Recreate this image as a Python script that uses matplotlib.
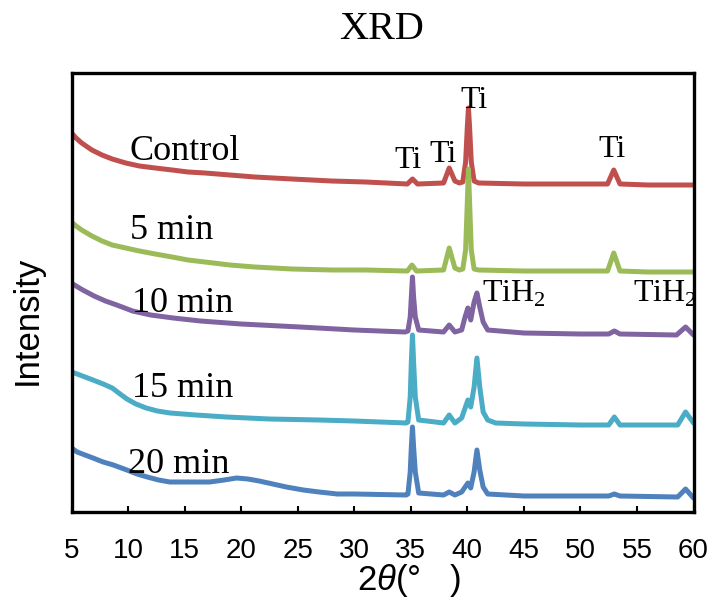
import matplotlib
matplotlib.use("Agg")
import matplotlib.pyplot as plt

plt.rcParams['mathtext.fontset'] = 'custom'
plt.rcParams['mathtext.rm'] = 'Liberation Serif'
plt.rcParams['mathtext.it'] = 'Liberation Sans:italic'

# ---- data (2theta in degrees, intensity in arbitrary offset units) ----
control_x = [5.0, 5.4, 5.9, 6.8, 7.7, 8.6, 9.8, 11.0, 12.4, 13.9, 15.3, 16.8, 19.0, 21.2, 24.5, 28.0,
             31.0, 34.7, 35.15, 35.6, 37.9, 38.4, 38.9, 39.3,
             39.6, 39.85, 40.0, 40.1, 40.2, 40.35, 40.6, 41, 45, 50, 52.4, 52.95, 53.5, 56, 60]
control_y = [379, 374, 369, 362, 357, 353, 349, 346, 344, 342, 340, 339, 337, 335, 333, 331,
             330, 328, 333, 328, 329, 344, 331, 329,
             330, 350, 385, 404, 385, 350, 331, 329, 328, 328, 328, 342, 328, 327, 327]

min5_x = [5.0, 5.4, 5.9, 6.8, 7.7, 8.6, 9.8, 11.0, 12.4, 13.9, 15.3, 16.8, 19.0, 21.2, 24.5, 28.0,
          31.0, 34.7, 35.1, 35.5, 37.9, 38.4, 38.9, 39.3,
          39.6, 39.85, 40.0, 40.1, 40.2, 40.35, 40.6, 41, 45, 50, 52.4, 52.95, 53.5, 56, 60]
min5_y = [290, 286, 282, 276, 271, 267, 264, 261, 258, 255, 252, 250, 247, 245, 243, 242,
          242, 241, 247, 241, 242, 264, 244, 242,
          243, 262, 310, 343, 310, 262, 243, 242, 241, 241, 241, 259, 241, 240, 240]

min10_x = [5.0, 5.4, 6.0, 7.0, 8.0, 9.0, 10.4, 12.0, 14.0, 16.4, 20.0, 25.2, 30, 34.5, 34.75, 34.95,
           35.05, 35.15, 35.25, 35.4, 35.7, 37.9, 38.4, 38.9, 39.5, 39.8, 40.05, 40.3, 40.6, 40.85,
           41.1, 41.4, 41.8, 45, 50, 52.5, 53.0, 53.5, 58.5, 59.3, 60]
min10_y = [229, 226, 222, 216, 211, 207, 201, 197, 194, 191, 188, 185, 182, 180, 181, 195,
           215, 235, 215, 195, 182, 180, 187, 180, 182, 195, 204, 192, 210, 219,
           205, 190, 182, 179, 178, 178, 181, 178, 177, 185, 177]

min15_x = [5.0, 5.5, 6.2, 6.9, 7.8, 8.6, 9.3, 9.9, 10.7, 11.6, 12.6, 13.7, 16.0, 18.7, 22.5, 26.9,
           30, 34.6, 34.75, 34.95, 35.05, 35.15, 35.25, 35.4, 35.7, 37.9, 38.4, 38.9, 39.5, 40.05,
           40.3, 40.6, 40.85, 41.1, 41.4, 41.8, 42.5, 45, 50, 52.5, 53.0, 53.5, 58.6, 59.3, 60]
min15_y = [140, 138, 135, 132, 128, 124, 118, 113, 108, 104, 101, 99, 97, 95, 93, 92,
           91, 89, 90, 115, 150, 177, 150, 115, 92, 89, 97, 89, 94, 112,
           105, 125, 154, 125, 100, 92, 89, 88, 87, 87, 95, 87, 87, 100, 89]

min20_x = [5.0, 5.5, 6.2, 6.9, 7.8, 8.7, 9.9, 10.8, 11.7, 12.7, 13.7, 15.5, 17.2, 18.5, 19.6, 20.6,
           21.6, 22.8, 24.0, 25.5, 26.9, 28.5, 30, 34.6, 34.75, 34.95, 35.05, 35.15, 35.25, 35.4,
           35.7, 37.9, 38.4, 38.9, 39.5, 40.05, 40.3, 40.6, 40.85, 41.1, 41.4, 41.8, 45, 50, 52.5,
           53.0, 53.5, 58.6, 59.3, 60]
min20_y = [64, 60, 57, 54, 50, 47, 42, 38, 35, 32, 30, 30, 30, 32, 34, 33,
           31, 28, 25, 22, 20, 18, 18, 17, 18, 40, 65, 85, 65, 40,
           19, 17, 20, 17, 20, 29, 24, 40, 62, 42, 25, 18, 16, 16, 16,
           18, 16, 15, 23, 14]

series_names = ['Control', '5 min', '10 min', '15 min', '20 min']
series_x = [control_x, min5_x, min10_x, min15_x, min20_x]
series_y = [control_y, min5_y, min10_y, min15_y, min20_y]
series_colors = ['#C0504D', '#9BBB59', '#8064A2', '#4BACC6', '#4F81BD']

# label anchors (x, y) in data coords
series_label_pos = [(10.17, 352), (10.17, 273), (10.35, 200), (10.35, 115), (10.0, 39)]

peak_labels = ['Ti', 'Ti', 'Ti', 'Ti', 'TiH$_{\\mathrm{2}}$', 'TiH$_{\\mathrm{2}}$']
peak_label_x = [34.75, 37.85, 40.6, 52.8, 41.3, 54.65]
peak_label_y = [344, 350, 404, 355, 210, 210]
peak_label_ha = ['center', 'center', 'center', 'center', 'left', 'left']

xticks = [5, 10, 15, 20, 25, 30, 35, 40, 45, 50, 55, 60]

# ---- figure ----
fig = plt.figure(figsize=(7.13, 6.01), dpi=100)
ax = fig.add_axes([71.5 / 713, 1 - 512 / 601, 622 / 713, 439 / 601])

for xs, ys, c in zip(series_x, series_y, series_colors):
    ax.plot(xs, ys, color=c, lw=3.6, solid_joinstyle='round', solid_capstyle='round', zorder=2)

serif = 'Liberation Serif'
for name, (lx, ly) in zip(series_names, series_label_pos):
    ax.text(lx, ly, name, family=serif, fontsize=26, ha='left', va='baseline', zorder=3)

for t, px, py, ha in zip(peak_labels, peak_label_x, peak_label_y, peak_label_ha):
    ax.text(px, py, t, family=serif, fontsize=23, ha=ha, va='baseline', zorder=3)

ax.set_xlim(5, 60)
ax.set_ylim(0, 439)
ax.set_xticks(xticks)
ax.set_xticklabels([str(v) for v in xticks], fontfamily='Liberation Sans', fontsize=20)
ax.set_yticks([])
ax.tick_params(axis='x', direction='in', length=4, width=1.5, pad=19, bottom=True, top=False)
for s in ax.spines.values():
    s.set_linewidth(2.4)
    s.set_zorder(5)

fig.text(382 / 713, 1 - 39 / 601, 'XRD', family=serif, fontsize=29, ha='center', va='baseline')
fig.text(27 / 713, 1 - 320 / 601, 'Intensity', family='Liberation Sans', fontsize=25,
         rotation=90, ha='center', va='center')
fig.text(409 / 713, 1 - 590 / 601, '2$\\theta$(°   )', family='Liberation Sans', fontsize=25,
         ha='center', va='baseline')

fig.savefig('out.png', dpi=100)
